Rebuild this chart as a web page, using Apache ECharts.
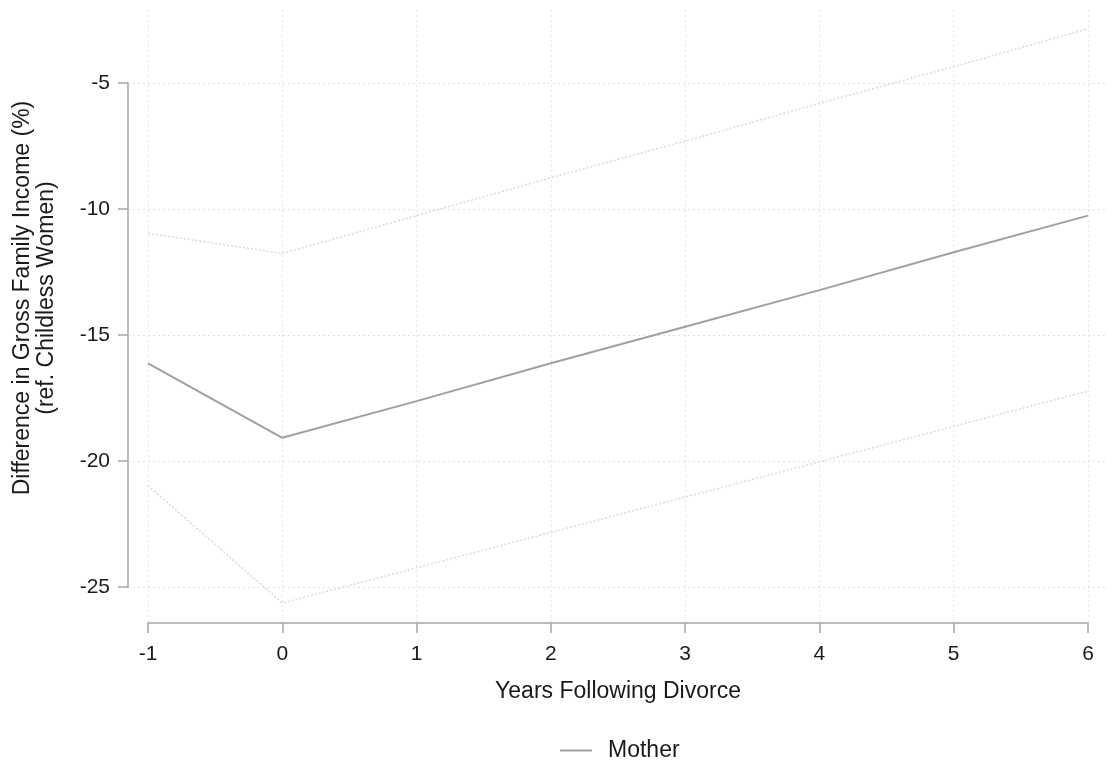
<!DOCTYPE html>
<html>
<head>
<meta charset="utf-8">
<script src="https://cdn.jsdelivr.net/npm/echarts@6/dist/echarts.min.js"></script>
<style>
html,body{margin:0;padding:0;background:#fff;}
#chart{width:1107px;height:765px;}
</style>
</head>
<body>
<div id="chart"></div>
<script>
// ---- data ----
const years = [-1, 0, 1, 2, 3, 4, 5, 6];
const mother = [-16.1, -19.05, -17.6, -16.1, -14.65, -13.2, -11.7, -10.25];
const upperCI = [-10.95, -11.75, -10.25, -8.75, -7.3, -5.8, -4.35, -2.85];
const lowerCI = [-20.95, -25.6, -24.2, -22.8, -21.4, -20.0, -18.6, -17.2];
const yTicks = [-25, -20, -15, -10, -5];
const yTitle = 'Difference in Gross Family Income (%)\n(ref. Childless Women)';
const xTitle = 'Years Following Divorce';
const seriesName = 'Mother';

const pair = (xs, ys) => xs.map((x, i) => [x, ys[i]]);
const FONT = '"Liberation Sans", Arial, sans-serif';
const TXT = '#1a1a1a';

const chart = echarts.init(document.getElementById('chart'), null, {renderer: 'canvas'});
chart.setOption({
  animation: false,
  backgroundColor: '#ffffff',
  textStyle: {fontFamily: FONT},
  grid: [
    {left: 128, right: 2, top: 83, bottom: 178},
    {left: 148, right: 19, top: 10, bottom: 142}
  ],
  graphic: [{
    type: 'text', x: 35, y: 298, rotation: Math.PI / 2,
    style: {
      text: yTitle, font: '23px ' + FONT, fill: TXT,
      align: 'center', verticalAlign: 'middle', lineHeight: 24
    }
  }],
  xAxis: [
    {gridIndex: 0, type: 'value', min: -1.149, max: 6.127, show: false},
    {
      gridIndex: 1, type: 'value', min: -1, max: 6, interval: 1,
      name: xTitle, nameLocation: 'middle', nameGap: 57,
      nameTextStyle: {fontSize: 23, color: TXT, fontFamily: FONT},
      axisLine: {show: true, onZero: false, lineStyle: {color: '#a6a6a6', width: 1.5}},
      axisTick: {show: true, length: 10, lineStyle: {color: '#a6a6a6', width: 1.5}},
      axisLabel: {fontSize: 21, color: TXT, margin: 21, fontFamily: FONT},
      splitLine: {show: true, lineStyle: {color: '#e6e6e6', width: 1, type: [2, 3]}}
    }
  ],
  yAxis: [
    {
      gridIndex: 0, type: 'value', min: -25, max: -5, interval: 5,
      axisLine: {show: true, onZero: false, lineStyle: {color: '#a6a6a6', width: 1.5}},
      axisTick: {show: true, length: 10, lineStyle: {color: '#a6a6a6', width: 1.5}},
      axisLabel: {fontSize: 21, color: TXT, margin: 18, fontFamily: FONT,
        formatter: v => yTicks.includes(v) ? String(v) : ''},
      splitLine: {show: true, lineStyle: {color: '#e0e0e0', width: 1, type: [2, 3]}}
    },
    {gridIndex: 1, type: 'value', min: -26.389, max: -2.103, show: false, splitLine: {show: false}}
  ],
  legend: {
    left: 555, top: 734,
    data: [{name: seriesName, icon: 'rect'}],
    itemWidth: 32, itemHeight: 2, itemGap: 10,
    textStyle: {fontSize: 23, color: TXT, fontFamily: FONT, padding: [0, 0, 0, 11]}
  },
  series: [
    {
      name: 'Upper', type: 'line', xAxisIndex: 1, yAxisIndex: 1,
      data: pair(years, upperCI), symbol: 'none', clip: false,
      lineStyle: {color: '#d9d9d9', width: 1.5, type: [2, 2]}
    },
    {
      name: 'Lower', type: 'line', xAxisIndex: 1, yAxisIndex: 1,
      data: pair(years, lowerCI), symbol: 'none', clip: false,
      lineStyle: {color: '#d9d9d9', width: 1.5, type: [2, 2]}
    },
    {
      name: seriesName, type: 'line', xAxisIndex: 1, yAxisIndex: 1,
      data: pair(years, mother), symbol: 'none', clip: false,
      itemStyle: {color: '#a0a0a0'},
      lineStyle: {color: '#a0a0a0', width: 2}
    }
  ]
});
</script>
</body>
</html>
